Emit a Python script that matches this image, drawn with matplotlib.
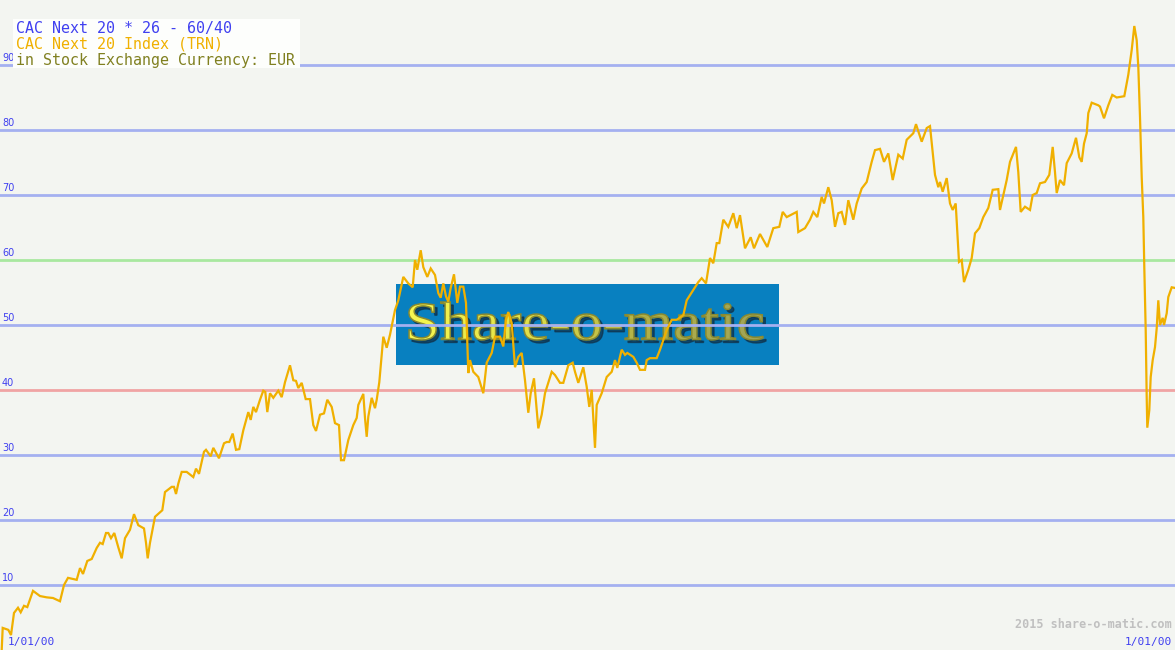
import numpy as np
import matplotlib.pyplot as plt
from matplotlib.patches import Rectangle, PathPatch
from matplotlib.textpath import TextPath
from matplotlib.font_manager import FontProperties
from matplotlib.transforms import Affine2D
from matplotlib.colors import LinearSegmentedColormap

# time axis (chart steps) and index value
t = [1.7, 2.7, 8.3, 11, 14, 18, 20.7, 24, 27.3, 33, 40, 46.7, 53, 60, 64, 68, 76.7, 80, 83,
     87.3, 91.7, 96.7, 100, 102.7, 106, 108.3, 111, 114.3, 118.3, 121.7, 125, 130, 134, 138.3,
     144, 146, 147.7, 150, 155, 159.3, 162.3, 165, 171.7, 174, 176, 178.3, 181.7, 186.7, 193.3,
     196, 199, 204, 206, 210.7, 213.3, 219, 224, 226.7, 229.3, 232.7, 236, 239.3, 243.3, 248.3,
     250.7, 253.3, 256, 260, 263.3, 265.3, 267.3, 270, 273.3, 278.3, 281.7, 285, 290, 293.3, 296,
     298.3, 301.7, 305.7, 310, 313.3, 316, 320, 324, 327.3, 331.7, 335, 339, 341, 344, 348.3,
     353.3, 356.7, 358.3, 363.3, 365, 366.7, 368.3, 371.7, 375, 376.7, 379.3,
     383.3, 386.7, 390, 395, 398.3, 403.3, 408.3, 412.7, 415, 417.3, 420.7, 423.3, 427.3, 430.7,
     435, 438.3, 440.7, 443.3, 446, 448.3, 450.7, 454, 457.3, 460, 463.3, 466, 468.3, 470, 473.3,
     478.3, 483.3, 486.7, 491.7, 495, 500, 503.3, 506, 508.3, 511.7, 515, 518.3, 521.7, 525,
     528.3, 530.7, 534, 538.3, 541.7, 545, 551.7, 555, 560, 563.3, 568.3, 572.7, 575, 578.3,
     583.3, 586.7, 589.3, 591.7, 595, 596.7, 601.7, 606.7, 611.7, 615, 617.3, 621.7, 625, 627.3,
     633.3, 636.7, 640, 645, 646.7, 650, 656.7, 660, 663.3, 666.7, 671.7, 676.7, 683.3,
     686.7, 693.3, 698.3, 701.7, 706, 710, 713.3, 716.7, 719.3, 723.3, 728.3, 733.3, 736.7, 740,
     745, 750.7, 754, 760, 767.3, 773.3, 779.3, 782.7, 786.7, 796.7, 798.3, 805, 810, 813.3,
     817.3, 821.7, 824, 828.3, 831.7, 835, 838.3, 841.7, 845, 848.3, 853.3, 856.7, 861.7, 866.7,
     871.7, 875, 880, 884, 888.3, 892.7, 898.3, 902.7, 906.7, 913.3, 916, 921.7, 926.7, 930, 935,
     938.3,
     940, 942.7, 946.7, 950, 952.7, 955.7, 957.3, 959, 961.7, 964, 968.3, 971.7, 975, 979.3,
     983.3, 988.3, 992.7, 998.3, 1000, 1003.3, 1006.7, 1010, 1016, 1018.3, 1020.7, 1025, 1030,
     1032.7, 1036.7, 1040, 1045, 1049.3, 1052.7, 1055, 1056.7, 1060, 1064, 1066.7, 1071.7, 1076,
     1079.3, 1081.7, 1084, 1086.7, 1088.3, 1091.7, 1098.3, 1100, 1104, 1108.3, 1112.3, 1116.7,
     1124.3, 1128.3, 1131.7, 1134.3, 1136.7, 1138.3, 1140, 1141.7, 1143.3, 1144.3, 1145.7,
     1146.7, 1147.3, 1149.3, 1150.7, 1152.7, 1155, 1156.7, 1158.3, 1160, 1162.7, 1164, 1166.7,
     1168.3, 1171.7, 1175]
price = [0, 3.4, 3.1, 2.3, 5.7, 6.5, 5.8, 6.8, 6.6, 9.1, 8.3, 8.1, 8.0, 7.5, 10, 11.1, 10.8, 12.6,
         11.7, 13.7, 14, 15.7, 16.5, 16.3, 18, 18, 17.2, 18, 15.8, 14.1, 17.2, 18.5, 20.9, 19.2,
         18.7, 16.5, 14.1, 16.5, 20.5, 21.1, 21.5, 24.3, 25.1, 25.1, 24, 25.6, 27.4, 27.4, 26.6,
         27.9, 27.1, 30.5, 30.8, 29.8, 31.1, 29.5, 31.8, 32, 32, 33.3, 30.8, 30.9, 33.8, 36.6,
         35.4, 37.4, 36.6, 38.5, 39.9, 39.7, 36.6, 39.5, 38.8, 39.9, 38.9, 41.2, 43.8, 41.5, 41.4,
         40.3, 41.1, 38.6, 38.6, 34.6, 33.7, 36.2, 36.4, 38.5, 37.4, 34.9, 34.6, 29.2, 29.2, 32.3,
         34.6, 35.7, 37.7, 39.4, 35.7, 32.8, 35.9, 38.8, 37.2, 38.5, 41.2,
         48.2, 46.5, 48.5, 52.3, 53.8, 57.4, 56.4, 55.8, 60, 58.5, 61.5, 58.9, 57.4, 58.7,
         57.7, 54.9, 54.2, 56.4, 54.4, 53.6, 55.7, 57.8, 53.4, 55.9, 55.9, 53.4, 42.6, 44.6, 42.8,
         42, 39.5, 44.2, 45.7, 48.2, 48.2, 46.7, 50.8, 52, 50.3, 43.5, 45.1, 45.7, 41.5,
         36.5, 39.5, 41.8, 34.1, 36.2, 39.5, 42.8, 42.3, 41.1, 41.1, 43.8, 44.2, 42.8, 41.1,
         43.5, 40.5, 37.4, 40, 31.1, 37.7, 39.5, 42, 42.8, 44.6, 43.4, 46.2, 45.4, 45.7,
         45.1, 44.2, 43.1, 43.1, 44.6, 44.9, 44.9, 46.2, 47.7, 49.2, 50.8, 50.8, 51.5,
         53.8, 55.4, 56.6, 57.2, 56.4, 60.3, 59.5, 62.6, 62.6, 66.2, 65.1, 67.2, 64.9, 66.9,
         61.8, 63.5, 61.8, 64, 62, 64.9, 65.1, 67.4, 66.6, 67.4, 64.3, 64.9, 66.2, 67.4,
         66.6, 69.7, 68.7, 71.2, 69.2, 65.1, 67.2, 67.4, 65.4, 69.2, 66.2, 68.7, 71, 72,
         75.1, 76.9, 77.1, 75.1, 76.4, 72.3, 76.2, 75.6, 78.5, 79.5, 80.9, 78.2, 80.3, 80.6, 73.1,
         71.2,
         72, 70.5, 72.6, 68.7, 67.7, 68.7, 64.3, 59.7, 60, 56.6, 58.5, 60.3, 64.1, 64.9,
         66.6, 68, 70.8, 70.9, 67.7, 70, 72.3, 75.1, 77.4, 73.5, 67.4, 68.2, 67.7,
         70, 70.3, 71.8, 72, 73.1, 77.4, 73.5, 70.3, 72.3, 71.5, 74.9, 76.4, 78.8,
         75.8, 75.1, 77.9, 79.5, 82.6, 84.2, 83.8, 83.6, 81.8, 83.8, 85.4, 85,
         85.2, 88.5, 92.3, 96, 93.8, 89.7, 82, 72.8, 66.6, 58.9, 49.2,
         38.9, 34.2, 36.9, 42, 44.6, 46.6, 49.5, 53.8, 50, 51.1, 50, 51.8,
         54.3, 55.8, 55.7]

blue_levels = [10, 20, 30, 50, 70, 80, 90]
tick_labels = ['10', '20', '30', '40', '50', '60', '70', '80', '90']
title_lines = ['CAC Next 20 * 26 - 60/40', 'CAC Next 20 Index (TRN)',
               'in Stock Exchange Currency: EUR']
title_colors = ['#4040f0', '#f0b000', '#808020']

W, H = 1175, 650
fig = plt.figure(figsize=(11.75, 6.5), dpi=100)
fig.patch.set_facecolor('#f3f5f1')
ax = fig.add_axes([0, 0, 1, 1])
ax.set_facecolor('#f3f5f1')
ax.set_xlim(0, W)
ax.set_ylim(0, 100)
ax.axis('off')

# logo box sits behind the grid and the line
ax.add_patch(Rectangle((396, 100 - 365 / 6.5), 383, 81 / 6.5, facecolor='#0880c0',
                       edgecolor='none', zorder=1))

# logo lettering, stretched to fill its box, with a yellow-to-olive fill
tp = TextPath((0, 0), 'Share-o-matic', size=1, prop=FontProperties(family='Liberation Serif'))
bb = tp.get_extents()
x0, x1 = 409, 763
ytop, ybot = 100 - 302 / 6.5, 100 - 340 / 6.5
sx = (x1 - x0) / bb.width
sy = (ytop - ybot) / bb.height
logo_tr = Affine2D().translate(-bb.x0, -bb.y0).scale(sx, sy).translate(x0, ybot)
shadow = PathPatch(logo_tr.transform_path(tp), facecolor='#103048', edgecolor='#103048',
                   lw=1.0, alpha=0.7, zorder=1.2)
shadow.set_transform(Affine2D().translate(3, -3 / 6.5) + ax.transData)
ax.add_patch(shadow)
letters = PathPatch(logo_tr.transform_path(tp), facecolor='none', edgecolor='#8a8a30',
                    lw=1.1, zorder=1.4)
ax.add_patch(letters)
ramp = LinearSegmentedColormap.from_list('logo', ['#f8f850', '#e0e048', '#b0b048', '#a0a458'])
grad = ax.imshow(np.linspace(0, 1, 256).reshape(1, -1), cmap=ramp, aspect='auto',
                 extent=(x0, x1, ybot, ytop), zorder=1.3, interpolation='bilinear')
grad.set_clip_path(letters)

for lv in blue_levels:
    ax.axhline(lv, color='#a4b0f0', lw=2, zorder=2)
ax.axhline(60, color='#a8e8a0', lw=2, zorder=2)
ax.axhline(40, color='#f0a4a4', lw=2, zorder=2)

for lab in tick_labels:
    ax.text(2, int(lab) + 0.35, lab, fontsize=7, color='#4040f0', ha='left', va='bottom', zorder=3)

ax.plot(t, price, color='#f0b000', lw=1.6, zorder=4, solid_joinstyle='miter')

# title block top left
fig.patches.append(Rectangle((13 / W, 1 - 68 / H), 287 / W, 49 / H, transform=fig.transFigure,
                             facecolor='#fdfefc', edgecolor='none', zorder=5))
for i, (txt, c) in enumerate(zip(title_lines, title_colors)):
    fig.text(16 / W, 1 - (28 + 16.3 * i) / H, txt, fontsize=10.8, family='DejaVu Sans Mono',
             color=c, ha='left', va='center', zorder=6)

fig.text(1172 / W, 1 - 625 / H, '2015 share-o-matic.com', fontsize=8.5, family='DejaVu Sans Mono',
         color='#c0c0c0', weight='bold', ha='right', va='center')
fig.text(8 / W, 1 - 642 / H, '1/01/00', fontsize=8, family='DejaVu Sans Mono',
         color='#4040f0', ha='left', va='center')
fig.text(1172 / W, 1 - 642 / H, '1/01/00', fontsize=8, family='DejaVu Sans Mono',
         color='#4040f0', ha='right', va='center')

fig.savefig('out.png', dpi=100, facecolor=fig.get_facecolor())
